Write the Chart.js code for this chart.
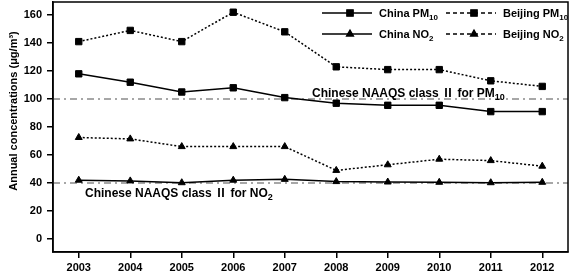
<!DOCTYPE html>
<html>
<head>
<meta charset="utf-8">
<script src="https://cdn.jsdelivr.net/npm/chart.js@4/dist/chart.umd.min.js"></script>
<style>
  html, body { margin: 0; padding: 0; background: #fff; }
  #wrap { width: 570px; height: 274px; }
</style>
</head>
<body>
<div id="wrap"><canvas id="grafico" width="570" height="274"></canvas></div>
<script>
// datos
const anios = ['2003','2004','2005','2006','2007','2008','2009','2010','2011','2012'];
const chinaPM10   = [118, 112, 105, 108, 101, 97, 95.5, 95.5, 91, 91];
const beijingPM10 = [141, 149, 141, 162, 148, 123, 121, 121, 113, 109];
const chinaNO2    = [42, 41.5, 40.2, 42, 42.6, 41, 40.7, 40.5, 40.2, 40.5];
const beijingNO2  = [72.5, 71.5, 66, 66, 66, 49, 53, 57, 56, 52];
const ticksY = [0, 20, 40, 60, 80, 100, 120, 140, 160];
const limitePM10 = 100;
const limiteNO2 = 40;

const fuente = '"Liberation Sans", Arial, "Noto Sans CJK SC", sans-serif';

// texto con subindice
function textoSub(ctx, x, y, base, sub, size){
    ctx.font = 'bold ' + size + 'px ' + fuente;
    ctx.fillText(base, x, y);
    let w = ctx.measureText(base).width;
    ctx.font = 'bold ' + Math.round(size * 0.75) + 'px ' + fuente;
    ctx.fillText(sub, x + w, y + size * 0.25);
}

const extras = {
    id: 'extras',
    beforeDatasetsDraw(chart){
        const ctx = chart.ctx;
        const a = chart.chartArea;
        const y = chart.scales.y;
        ctx.save();
        ctx.strokeStyle = '#8a8a8a';
        ctx.lineWidth = 1.5;
        ctx.setLineDash([7, 4, 2, 4]);
        [limitePM10, limiteNO2].forEach(function(v){
            const py = y.getPixelForValue(v);
            ctx.beginPath();
            ctx.moveTo(a.left, py);
            ctx.lineTo(a.right, py);
            ctx.stroke();
        });
        ctx.restore();
    },
    afterDraw(chart){
        const ctx = chart.ctx;
        const a = chart.chartArea;
        const y = chart.scales.y;
        ctx.save();
        // marco
        ctx.strokeStyle = '#000';
        ctx.lineWidth = 1.5;
        ctx.strokeRect(a.left, a.top, a.right - a.left, a.bottom - a.top);

        ctx.fillStyle = '#000';
        ctx.textBaseline = 'alphabetic';
        ctx.textAlign = 'left';
        textoSub(ctx, 312, y.getPixelForValue(limitePM10) - 2, 'Chinese NAAQS class \u2161 for PM', '10', 12);
        textoSub(ctx, 85, y.getPixelForValue(limiteNO2) + 14, 'Chinese NAAQS class \u2161 for NO', '2', 12);

        // titulo eje y
        ctx.save();
        ctx.translate(17, 111);
        ctx.rotate(-Math.PI / 2);
        ctx.textAlign = 'center';
        ctx.font = 'bold 11px ' + fuente;
        ctx.fillText('Annual concentrations (\u03bcg/m\u00b3)', 0, 0);
        ctx.restore();

        // leyenda
        const items = [
            {ds: 0, x: 322, y: 13, txt: 'China PM', sub: '10'},
            {ds: 1, x: 446, y: 13, txt: 'Beijing PM', sub: '10'},
            {ds: 2, x: 322, y: 34, txt: 'China NO', sub: '2'},
            {ds: 3, x: 446, y: 34, txt: 'Beijing NO', sub: '2'}
        ];
        items.forEach(function(it){
            const d = chart.data.datasets[it.ds];
            ctx.strokeStyle = '#000';
            ctx.lineWidth = 1.3;
            ctx.setLineDash(d.borderDash && d.borderDash.length ? [4, 3] : []);
            ctx.beginPath();
            ctx.moveTo(it.x, it.y);
            ctx.lineTo(it.x + 50, it.y);
            ctx.stroke();
            ctx.setLineDash([]);
            Chart.helpers.drawPoint(ctx, {pointStyle: d.pointStyle, radius: d.pointRadius, borderWidth: 1, rotation: 0}, it.x + 28, it.y);
            ctx.fill();
            ctx.fillStyle = '#000';
            textoSub(ctx, it.x + 57, it.y + 4, it.txt, it.sub, 11);
        });
        ctx.restore();
    }
};

function serie(label, data, dash, estilo){
    return {
        label: label,
        data: data,
        borderColor: '#000',
        backgroundColor: '#000',
        borderWidth: 1.5,
        borderDash: dash,
        pointStyle: estilo,
        pointRadius: estilo === 'rect' ? 4.5 : 4,
        pointBorderWidth: 1,
        tension: 0
    };
}

new Chart(document.getElementById('grafico'), {
    type: 'line',
    data: {
        labels: anios,
        datasets: [
            serie('China PM10', chinaPM10, [], 'rect'),
            serie('Beijing PM10', beijingPM10, [2, 2], 'rect'),
            serie('China NO2', chinaNO2, [], 'triangle'),
            serie('Beijing NO2', beijingNO2, [2, 2], 'triangle')
        ]
    },
    options: {
        responsive: false,
        animation: false,
        layout: { autoPadding: false, padding: { top: 2, right: 2, left: 0, bottom: 0 } },
        plugins: { legend: { display: false }, tooltip: { enabled: false } },
        scales: {
            x: {
                offset: true,
                grid: { display: true, drawOnChartArea: false, tickLength: 6, color: '#000', lineWidth: 1.5 },
                border: { display: true, color: '#000', width: 1.5 },
                ticks: { color: '#000', font: { family: fuente, size: 11, weight: 'bold' }, padding: 3, maxRotation: 0 },
                afterFit: function(s){ s.height = 22; s.paddingLeft = 0; s.paddingRight = 0; }
            },
            y: {
                min: -9.3,
                max: 169.3,
                grid: { display: true, drawOnChartArea: false, tickLength: 6, color: '#000', lineWidth: 1.5 },
                border: { display: true, color: '#000', width: 1.5 },
                ticks: { color: '#000', font: { family: fuente, size: 11, weight: 'bold' }, padding: 5 },
                afterBuildTicks: function(s){ s.ticks = ticksY.map(v => ({ value: v })); },
                afterFit: function(s){ s.width = 53; s.paddingTop = 0; s.paddingBottom = 0; }
            }
        }
    },
    plugins: [extras]
});
</script>
</body>
</html>
